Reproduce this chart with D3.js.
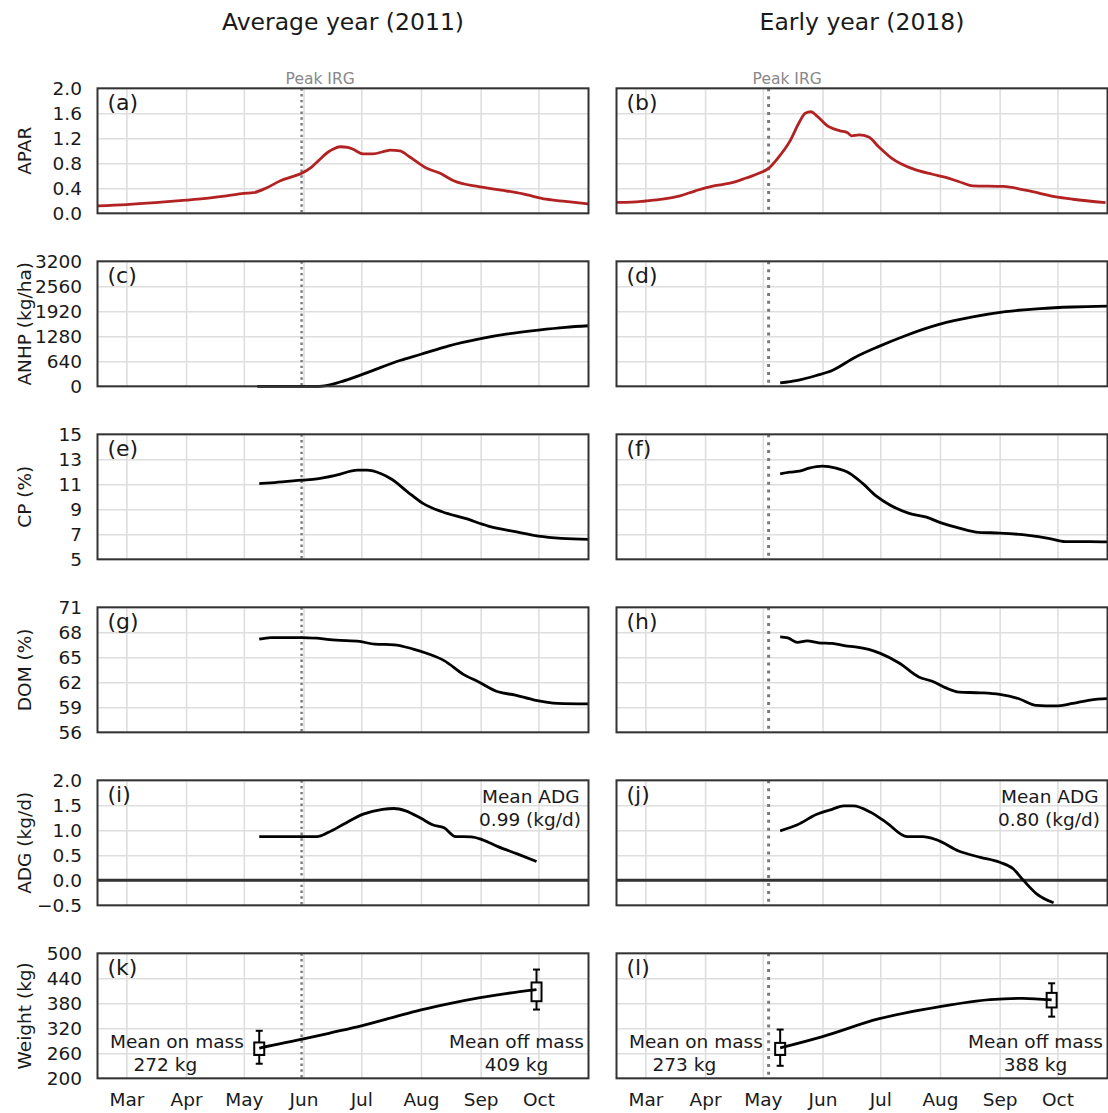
<!DOCTYPE html>
<html>
<head>
<meta charset="utf-8">
<script src="https://cdn.jsdelivr.net/npm/d3@7"></script>
<style>
  body { margin: 0; background: #fff; }
  svg { display: block; font-family: "DejaVu Sans", sans-serif; }
</style>
</head>
<body>
<svg id="chart" width="1108" height="1113"></svg>
<script>
'use strict';

// ---- data (dates are month-day, both years share the same day axis) ----
var columnTitles = ['Average year (2011)', 'Early year (2018)'];
var panelLetters = ['a', 'b', 'c', 'd', 'e', 'f', 'g', 'h', 'i', 'j', 'k', 'l'];
var xExtent = ['02-14', '10-27'];
var monthTicks = ['03-01', '04-01', '05-01', '06-01', '07-01', '08-01', '09-01', '10-01'];
var monthLabels = ['Mar', 'Apr', 'May', 'Jun', 'Jul', 'Aug', 'Sep', 'Oct'];
var peakIrg = ['05-31', '05-04'];

var aparTicks = [0, 0.4, 0.8, 1.2, 1.6, 2.0];
var anhpTicks = [0, 640, 1280, 1920, 2560, 3200];
var cpTicks = [5, 7, 9, 11, 13, 15];
var domTicks = [56, 59, 62, 65, 68, 71];
var adgTicks = [-0.5, 0, 0.5, 1.0, 1.5, 2.0];
var weightTicks = [200, 260, 320, 380, 440, 500];

var apar2011 = [['02-14', 0.12], ['03-01', 0.14], ['03-16', 0.17], ['04-01', 0.21], ['04-10', 0.235],
  ['04-22', 0.28], ['05-01', 0.32], ['05-06', 0.33], ['05-13', 0.41], ['05-20', 0.52], ['05-25', 0.575],
  ['05-31', 0.64], ['06-05', 0.735], ['06-09', 0.85], ['06-14', 0.985], ['06-16', 1.02], ['06-20', 1.065],
  ['06-24', 1.055], ['06-27', 1.02], ['07-02', 0.95], ['07-07', 0.95], ['07-14', 1.0], ['07-16', 1.01],
  ['07-21', 1.0], ['07-26', 0.905], ['08-04', 0.72], ['08-11', 0.64], ['08-18', 0.52], ['08-31', 0.425],
  ['09-14', 0.36], ['09-23', 0.31], ['10-05', 0.225], ['10-15', 0.19], ['10-27', 0.15]];
var apar2018 = [['02-14', 0.176], ['02-22', 0.18], ['03-01', 0.197], ['03-10', 0.225], ['03-19', 0.28],
  ['03-27', 0.36], ['04-05', 0.435], ['04-10', 0.46], ['04-15', 0.49], ['04-22', 0.56], ['04-29', 0.64],
  ['05-04', 0.72], ['05-09', 0.89], ['05-15', 1.15], ['05-20', 1.46], ['05-23', 1.6], ['05-26', 1.625],
  ['05-29', 1.56], ['06-04', 1.39], ['06-10', 1.32], ['06-14', 1.29], ['06-16', 1.24], ['06-20', 1.255],
  ['06-25', 1.22], ['06-30', 1.07], ['07-07', 0.88], ['07-18', 0.71], ['07-28', 0.625], ['08-04', 0.575],
  ['08-11', 0.505], ['08-18', 0.44], ['09-03', 0.43], ['09-15', 0.365], ['10-02', 0.255], ['10-09', 0.225],
  ['10-26', 0.17]];

var anhp2011 = [['05-08', 0], ['06-09', 0], ['06-20', 110], ['07-03', 330], ['07-21', 660], ['08-01', 820],
  ['08-15', 1030], ['09-01', 1220], ['09-15', 1340], ['10-01', 1440], ['10-15', 1510], ['10-27', 1550]];
var anhp2018 = [['05-10', 85], ['05-19', 150], ['05-29', 280], ['06-06', 405], ['06-18', 745], ['06-30', 1015],
  ['07-14', 1295], ['08-01', 1590], ['08-18', 1775], ['09-04', 1910], ['09-22', 1990], ['10-09', 2030],
  ['10-27', 2050]];

var cp2011 = [['05-09', 11.06], ['05-17', 11.14], ['05-31', 11.33], ['06-08', 11.44], ['06-18', 11.73],
  ['06-29', 12.13], ['07-04', 12.13], ['07-11', 11.86], ['07-17', 11.38], ['07-25', 10.4], ['08-02', 9.47],
  ['08-12', 8.8], ['08-24', 8.27], ['09-05', 7.66], ['09-19', 7.21], ['10-01', 6.86], ['10-13', 6.68],
  ['10-27', 6.6]];
var cp2018 = [['05-10', 11.84], ['05-15', 11.97], ['05-20', 12.05], ['05-25', 12.29], ['06-01', 12.45],
  ['06-08', 12.29], ['06-15', 11.89], ['06-22', 11.05], ['06-29', 10.05], ['07-06', 9.34], ['07-16', 8.68],
  ['07-25', 8.37], ['08-02', 7.89], ['08-11', 7.5], ['08-21', 7.16], ['09-01', 7.1], ['09-16', 6.92],
  ['09-27', 6.66], ['10-05', 6.42], ['10-18', 6.42], ['10-27', 6.39]];

var dom2011 = [['05-09', 67.17], ['05-15', 67.37], ['05-31', 67.37], ['06-08', 67.29], ['06-18', 67.05],
  ['06-30', 66.9], ['07-08', 66.58], ['07-18', 66.5], ['07-28', 65.99], ['08-05', 65.4], ['08-13', 64.6],
  ['08-23', 62.95], ['08-31', 62.04], ['09-10', 60.86], ['09-19', 60.46], ['09-29', 59.87], ['10-11', 59.47],
  ['10-27', 59.4]];
var dom2018 = [['05-10', 67.45], ['05-14', 67.33], ['05-19', 66.78], ['05-24', 66.97], ['05-30', 66.74],
  ['06-06', 66.66], ['06-13', 66.38], ['06-18', 66.26], ['06-25', 65.95], ['07-01', 65.47], ['07-11', 64.29],
  ['07-21', 62.63], ['07-28', 62.12], ['08-04', 61.33], ['08-11', 60.82], ['08-22', 60.74], ['09-01', 60.54],
  ['09-11', 60.03], ['09-20', 59.24], ['09-30', 59.16], ['10-09', 59.47], ['10-18', 59.87], ['10-27', 60.03]];

var adg2011 = [['05-09', 0.873], ['06-08', 0.873], ['06-14', 0.96], ['06-22', 1.125], ['07-02', 1.324],
  ['07-12', 1.42], ['07-18', 1.436], ['07-24', 1.39], ['08-01', 1.24], ['08-07', 1.11], ['08-13', 1.05],
  ['08-19', 0.875], ['08-27', 0.87], ['09-02', 0.81], ['09-10', 0.674], ['09-20', 0.528], ['09-30', 0.375]];
var adg2018 = [['05-10', 0.99], ['05-19', 1.11], ['05-29', 1.32], ['06-06', 1.42], ['06-12', 1.49],
  ['06-17', 1.49], ['06-26', 1.36], ['07-04', 1.16], ['07-15', 0.873], ['07-23', 0.873], ['07-30', 0.813],
  ['08-11', 0.58], ['08-22', 0.46], ['09-01', 0.36], ['09-08', 0.23], ['09-13', 0.013], ['09-20', -0.265],
  ['09-29', -0.45]];

var weight2011 = [['05-09', 272.6], ['06-01', 294.4], ['06-16', 310], ['07-01', 326], ['07-18', 347],
  ['08-01', 364], ['08-17', 380.5], ['08-31', 393], ['09-15', 404], ['09-30', 413]];
var weight2018 = [['05-10', 272.8], ['06-01', 300], ['06-30', 342.4], ['08-01', 372], ['08-27', 388.8],
  ['09-13', 392], ['09-28', 388]];

// date, whisker low, box low, box high, whisker high
var weightBoxes2011 = [['05-09', 235, 256, 286, 314], ['09-30', 365, 385, 430, 461]];
var weightBoxes2018 = [['05-10', 230, 256, 285, 317], ['09-28', 348, 370, 405, 428]];

var adgMeans = ['0.99', '0.80'];
var massOn = ['272', '273'];
var massOff = ['409', '388'];

// ---- layout ----
var colLeft = [97.5, 616.5],
    panelW = 491,
    rowTop0 = 88.3,
    rowStep = 173,
    panelH = 125,
    ink = '#1a1a1a';

var parseDay = d3.utcParse('%m-%d');

var rows = [
  {label: 'APAR', ticks: aparTicks, fmt: d3.format('.1f'), series: [apar2011, apar2018], color: '#b22222'},
  {label: 'ANHP (kg/ha)', ticks: anhpTicks, fmt: d3.format('d'), series: [anhp2011, anhp2018]},
  {label: 'CP (%)', ticks: cpTicks, fmt: d3.format('d'), series: [cp2011, cp2018]},
  {label: 'DOM (%)', ticks: domTicks, fmt: d3.format('d'), series: [dom2011, dom2018]},
  {label: 'ADG (kg/d)', ticks: adgTicks, fmt: d3.format('.1f'), series: [adg2011, adg2018], zero: true},
  {label: 'Weight (kg)', ticks: weightTicks, fmt: d3.format('d'), series: [weight2011, weight2018],
    boxes: [weightBoxes2011, weightBoxes2018]}
];

var svg = d3.select('#chart');

var gridStyle = function (sel) {
  sel.select('.domain').remove();
  sel.selectAll('.tick line').attr('stroke', '#dedede').attr('stroke-width', 1.6);
  sel.selectAll('text').remove();
};

var labelStyle = function (sel, size) {
  sel.select('.domain').remove();
  sel.selectAll('.tick line').remove();
  sel.attr('font-family', null).attr('font-size', size);
  sel.selectAll('text').attr('fill', ink);
};

// column titles
columnTitles.forEach(function (t, c) {
  svg.append('text')
    .attr('x', colLeft[c] + panelW / 2)
    .attr('y', 30)
    .attr('text-anchor', 'middle')
    .attr('font-size', 23.5)
    .attr('fill', ink)
    .text(t);
});

rows.forEach(function (row, r) {
  var top = rowTop0 + r * rowStep;

  // y axis title
  svg.append('text')
    .attr('transform', 'translate(30.5,' + (top + panelH / 2) + ') rotate(-90)')
    .attr('text-anchor', 'middle')
    .attr('font-size', 18.5)
    .attr('fill', ink)
    .text(row.label);

  [0, 1].forEach(function (c) {
    var left = colLeft[c],
        x = d3.scaleUtc().domain(xExtent.map(parseDay)).range([left, left + panelW]),
        y = d3.scaleLinear().domain(d3.extent(row.ticks)).range([top + panelH, top]),
        g = svg.append('g');

    // grid
    g.append('g')
      .attr('transform', 'translate(0,' + (top + panelH) + ')')
      .call(d3.axisBottom(x).tickValues(monthTicks.map(parseDay)).tickSize(-panelH))
      .call(gridStyle);
    g.append('g')
      .attr('transform', 'translate(' + left + ',0)')
      .call(d3.axisLeft(y).tickValues(row.ticks).tickSize(-panelW))
      .call(gridStyle);

    // peak IRG marker
    var px = x(parseDay(peakIrg[c]));
    g.append('line')
      .attr('x1', px).attr('x2', px)
      .attr('y1', top).attr('y2', top + panelH)
      .attr('stroke', '#7a7a7a')
      .attr('stroke-width', c === 0 ? 2.4 : 3)
      .attr('stroke-dasharray', c === 0 ? '2.4 3.4' : '3 4.9');
    if (r === 0) {
      g.append('text')
        .attr('x', px - 16)
        .attr('y', top - 4.5)
        .attr('font-size', 15.5)
        .attr('fill', '#888')
        .text('Peak IRG');
    }

    if (row.zero) {
      g.append('line')
        .attr('x1', left).attr('x2', left + panelW)
        .attr('y1', y(0)).attr('y2', y(0))
        .attr('stroke', '#333')
        .attr('stroke-width', 3);
    }

    var line = d3.line()
      .x(function (d) { return x(parseDay(d[0])); })
      .y(function (d) { return y(d[1]); })
      .curve(d3.curveMonotoneX);

    g.append('path')
      .datum(row.series[c])
      .attr('d', line)
      .attr('fill', 'none')
      .attr('stroke', row.color || '#000')
      .attr('stroke-width', 2.8)
      .attr('stroke-linejoin', 'round');

    if (row.boxes) {
      var bx = g.selectAll('.box')
        .data(row.boxes[c])
        .enter().append('g')
        .attr('class', 'box')
        .attr('stroke', '#000')
        .attr('stroke-width', 2)
        .attr('fill', 'none');
      bx.append('line')
        .attr('x1', function (d) { return x(parseDay(d[0])); })
        .attr('x2', function (d) { return x(parseDay(d[0])); })
        .attr('y1', function (d) { return y(d[1]); })
        .attr('y2', function (d) { return y(d[2]); });
      bx.append('line')
        .attr('x1', function (d) { return x(parseDay(d[0])); })
        .attr('x2', function (d) { return x(parseDay(d[0])); })
        .attr('y1', function (d) { return y(d[3]); })
        .attr('y2', function (d) { return y(d[4]); });
      [1, 4].forEach(function (k) {
        bx.append('line')
          .attr('x1', function (d) { return x(parseDay(d[0])) - 3.5; })
          .attr('x2', function (d) { return x(parseDay(d[0])) + 3.5; })
          .attr('y1', function (d) { return y(d[k]); })
          .attr('y2', function (d) { return y(d[k]); });
      });
      bx.append('rect')
        .attr('x', function (d) { return x(parseDay(d[0])) - 5; })
        .attr('width', 10)
        .attr('y', function (d) { return y(d[3]); })
        .attr('height', function (d) { return y(d[2]) - y(d[3]); });

      var ann = g.append('g').attr('font-size', 18.5).attr('fill', ink);
      ann.append('text').attr('x', left + 12.5).attr('y', top + 95).text('Mean on mass');
      ann.append('text').attr('x', left + 36).attr('y', top + 117.5).text(massOn[c] + ' kg');
      ann.append('text').attr('x', left + panelW - 72).attr('y', top + 95)
        .attr('text-anchor', 'middle').text('Mean off mass');
      ann.append('text').attr('x', left + panelW - 72).attr('y', top + 117.5)
        .attr('text-anchor', 'middle').text(massOff[c] + ' kg');
    }

    if (row.zero) {
      var adgAnn = g.append('g').attr('font-size', 18.5).attr('fill', ink).attr('text-anchor', 'end');
      adgAnn.append('text').attr('x', left + panelW - 9).attr('y', top + 23).text('Mean ADG');
      adgAnn.append('text').attr('x', left + panelW - 7.5).attr('y', top + 45.5).text(adgMeans[c] + ' (kg/d)');
    }

    // frame
    g.append('rect')
      .attr('x', left).attr('y', top)
      .attr('width', panelW).attr('height', panelH)
      .attr('fill', 'none')
      .attr('stroke', '#333')
      .attr('stroke-width', 2);

    // panel letter
    g.append('text')
      .attr('x', left + 10)
      .attr('y', top + 22)
      .attr('font-size', 22)
      .attr('fill', ink)
      .text('(' + panelLetters[r * 2 + c] + ')');

    // tick labels
    if (c === 0) {
      g.append('g')
        .attr('transform', 'translate(' + left + ',0)')
        .call(d3.axisLeft(y).tickValues(row.ticks).tickSize(0).tickPadding(15.5).tickFormat(row.fmt))
        .call(labelStyle, 18.5);
    }
    if (r === rows.length - 1) {
      g.append('g')
        .attr('transform', 'translate(0,' + (top + panelH) + ')')
        .call(d3.axisBottom(x).tickValues(monthTicks.map(parseDay)).tickSize(0).tickPadding(14.6)
          .tickFormat(function (d, i) { return monthLabels[i]; }))
        .call(labelStyle, 18.5);
    }
  });
});
</script>
</body>
</html>
